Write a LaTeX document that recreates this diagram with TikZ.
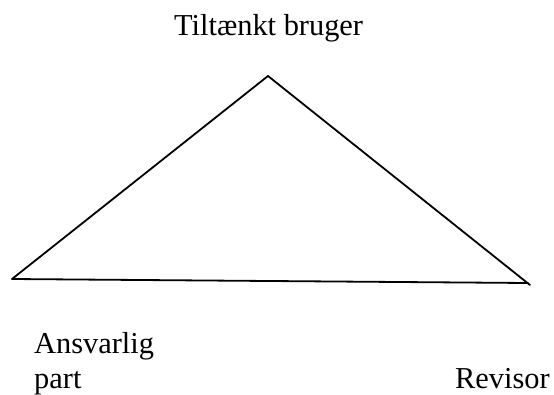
\documentclass[tikz,border=0pt]{standalone}
\usepackage{fontspec}
\setmainfont{Liberation Serif}
\begin{document}
\begin{tikzpicture}[x=1pt,y=-1pt,
  lbl/.style={anchor=base west,inner sep=0pt,font=\fontsize{30.4}{36}\selectfont},
  edge/.style={line width=1.8pt,line cap=round}]
\useasboundingbox (0,0) rectangle (554,394);
\coordinate (apex) at (268,76);
\coordinate (left) at (12,279);
\coordinate (right) at (528,283);
\coordinate (rightend) at (530,285);
\draw[edge] (left) -- (apex) -- (rightend);
\draw[edge] (left) -- (right);
\node[lbl] (user) at (174,35) {Tiltænkt bruger};
\node[lbl] (ans) at (34,353) {Ansvarlig};
\node[lbl] (part) at (34,388) {part};
\node[lbl] (rev) at (455,388) {Revisor};
\end{tikzpicture}
\end{document}
